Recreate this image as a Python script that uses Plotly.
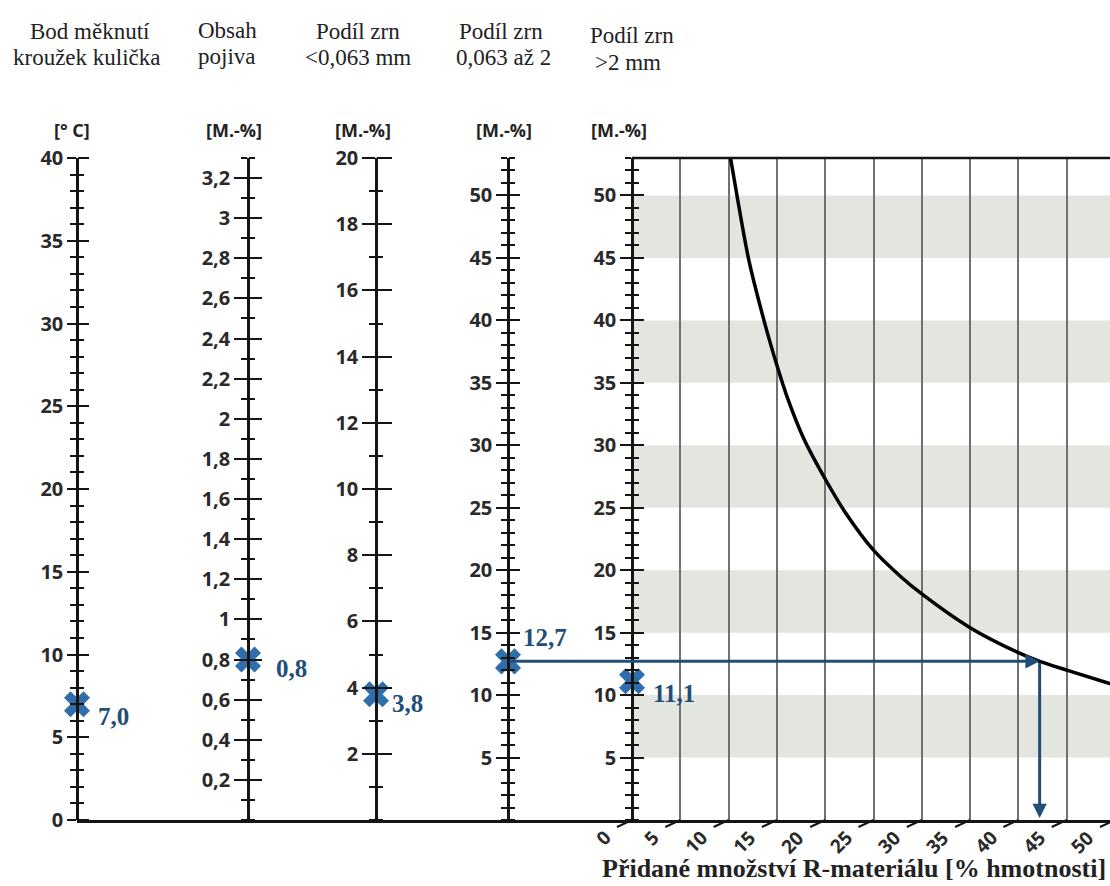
import numpy as np
import plotly.graph_objects as go

# ---------------- values ----------------
scale_titles = [
    ["Bod měknutí", "kroužek kulička"],
    ["Obsah", "pojiva"],
    ["Podíl zrn", "<0,063 mm"],
    ["Podíl zrn", "0,063 až 2"],
    ["Podíl zrn", ">2 mm"],
]
scale_units = ["[° C]", "[M.-%]", "[M.-%]", "[M.-%]", "[M.-%]"]

ticks_bod = [0, 5, 10, 15, 20, 25, 30, 35, 40]
ticks_pojivo = [0.2, 0.4, 0.6, 0.8, 1.0, 1.2, 1.4, 1.6, 1.8, 2.0,
                2.2, 2.4, 2.6, 2.8, 3.0, 3.2]
ticks_jemne = [2, 4, 6, 8, 10, 12, 14, 16, 18, 20]
ticks_stredni = [5, 10, 15, 20, 25, 30, 35, 40, 45, 50]
ticks_hrube = [5, 10, 15, 20, 25, 30, 35, 40, 45, 50]

scale_ranges = [[0, 40], [0, 3.3], [0, 20], [0, 53], [0, 53]]
scale_minor = [1, 0.1, 1, 1, 1]

# measured values marked on the five scales
measured = [7.0, 0.8, 3.8, 12.7, 11.1]

# added R-material [% by mass] vs. share of grains > 2 mm
curve_x = [10.2, 11.0, 12.1, 13.8, 15.0, 16.0, 17.8, 20.0, 22.1, 25.0,
           27.8, 30.0, 35.0, 40.0, 42.2, 45.0, 50.0]
curve_y = [53.0, 49.4, 44.8, 39.6, 36.4, 34.0, 30.5, 27.3, 24.6, 21.6,
           19.5, 18.1, 15.4, 13.4, 12.7, 12.0, 10.8]

x_ticks = [0, 5, 10, 15, 20, 25, 30, 35, 40, 45, 50]
bands = [(5, 10), (15, 20), (25, 30), (35, 40), (45, 50)]

x_title = "Přidané množství R-materiálu [% hmotnosti]"

# ---------------- layout geometry ----------------
W, H = 1110, 886
L, R, T, B = 77, 1110, 158, 820
X0_PX, PX_PER_UNIT = 632, 9.66
xmin = (L - X0_PX) / PX_PER_UNIT
xmax = (R - X0_PX) / PX_PER_UNIT
axis_px = [77, 248, 376, 508, 632]
pos_paper = [(p - L) / (R - L) for p in axis_px]
pos_data = [xmin + f * (xmax - xmin) for f in pos_paper]

major_left = [9, 13, 13, 11, 11]
major_right = [11, 13, 15, 11, 11]
minor_len = 6

INK = "#151515"
LABEL_INK = "#2a2a2a"
GRID = "#717171"
BAND = "#e3e5df"
MARK = "#2f6eab"
ARROW = "#1f4e79"
SANS = "Open Sans"
SERIF = "Liberation Serif"


def px_x(px):
    return (px - L) / (R - L)


def px_y(py):
    return (B - py) / (B - T)


def x_to_paper(v):
    return (v - xmin) / (xmax - xmin)


def fmt(v):
    return f"{v:g}".replace(".", ",")


def fmt1(v):
    return f"{v:.1f}".replace(".", ",")


def yref(n):
    return "y" if n == 1 else f"y{n}"


def ykey(n):
    return "yaxis" if n == 1 else f"yaxis{n}"


fig = go.Figure()
scale_ticks = [ticks_bod, ticks_pojivo, ticks_jemne, ticks_stredni, ticks_hrube]
main_ids = [2 * i + 1 for i in range(5)]
twin_ids = [2 * i + 2 for i in range(5)]

axes_layout = {}
for i in range(5):
    tv = scale_ticks[i]
    common = dict(
        range=scale_ranges[i], anchor="free", position=pos_paper[i],
        showgrid=False, zeroline=False, fixedrange=True,
        tickmode="array", tickvals=tv,
        tickwidth=2, tickcolor=INK,
        minor=dict(tickmode="linear", tick0=0, dtick=scale_minor[i],
                   ticks="outside", ticklen=minor_len, tickwidth=2,
                   tickcolor=INK),
    )
    main = dict(common, side="left", showline=True, linecolor=INK,
                linewidth=2.5, ticks="outside", ticklen=major_left[i],
                ticktext=[fmt(v) for v in tv],
                tickfont=dict(family=SANS, size=20, color=LABEL_INK,
                              weight=700))
    if main_ids[i] != 1:
        main["overlaying"] = "y"
    twin = dict(common, side="right", overlaying="y", showline=False,
                ticks="outside", ticklen=major_right[i],
                showticklabels=False)
    axes_layout[ykey(main_ids[i])] = main
    axes_layout[ykey(twin_ids[i])] = twin
    fig.add_trace(go.Scatter(x=[None], y=[None], yaxis=yref(twin_ids[i]),
                             showlegend=False, hoverinfo="skip"))

# curve of the right-hand panel
curve_ref = yref(main_ids[4])
fig.add_trace(go.Scatter(
    x=curve_x, y=curve_y, yaxis=curve_ref, mode="lines",
    line=dict(color="#000000", width=3.5, shape="spline", smoothing=0.8),
    showlegend=False, hoverinfo="skip"))

# measured points on each scale
for i in range(5):
    fig.add_trace(go.Scatter(
        x=[pos_data[i]], y=[measured[i]], yaxis=yref(main_ids[i]),
        mode="markers", cliponaxis=False, showlegend=False,
        marker=dict(symbol="x", size=23, color=MARK, line=dict(width=0))))

annotations = []

# headers above the scales
header_pos = [
    [(90, 32, "center"), (87, 57, "center")],
    [(196, 30, "left"), (196, 56, "left")],
    [(358, 31, "center"), (358, 58, "center")],
    [(501, 31, "center"), (503, 58, "center")],
    [(588, 35, "left"), (593, 63, "left")],
]
for title, pos in zip(scale_titles, header_pos):
    for line, (hx, hy, anchor) in zip(title, pos):
        annotations.append(dict(
            x=px_x(hx), y=px_y(hy), xref="paper", yref="paper", text=line,
            xanchor=anchor, yanchor="middle", showarrow=False,
            font=dict(family=SERIF, size=23, color="#222222")))

unit_x = [72, 234, 363, 504, 619]
for u, ux in zip(scale_units, unit_x):
    annotations.append(dict(
        x=px_x(ux), y=px_y(130), xref="paper", yref="paper", text=u,
        xanchor="center", yanchor="middle", showarrow=False,
        font=dict(family=SANS, size=18, color="#222222", weight=700)))

# value labels next to the marks
label_shift = [(19, -12), (26, -9), (14, -9), (13, 24), (19, -12)]
for i in range(5):
    dx, dy = label_shift[i]
    annotations.append(dict(
        x=pos_data[i], y=measured[i], xref="x", yref=yref(main_ids[i]),
        text=fmt1(measured[i]),
        xanchor="left", yanchor="middle", xshift=dx, yshift=dy,
        showarrow=False,
        font=dict(family=SERIF, size=25, color=ARROW, weight=700)))

# reading path: scale value -> curve -> added amount
hit_x = float(np.interp(measured[3], curve_y[::-1], curve_x[::-1]))
annotations.append(dict(
    x=hit_x, y=measured[3], xref="x", yref=yref(main_ids[3]),
    ax=pos_data[3], ay=measured[3], axref="x", ayref=yref(main_ids[3]),
    text="", showarrow=True, arrowhead=2, arrowsize=0.95, arrowwidth=3,
    arrowcolor=ARROW, standoff=0, startstandoff=0))
annotations.append(dict(
    x=hit_x, y=0, xref="x", yref=curve_ref,
    ax=hit_x, ay=measured[3], axref="x", ayref=curve_ref,
    text="", showarrow=True, arrowhead=2, arrowsize=0.95, arrowwidth=3,
    arrowcolor=ARROW, standoff=2, startstandoff=0))

# slanted x tick labels (placed on the x scale, may run past the edge)
for v in x_ticks:
    annotations.append(dict(
        x=x_to_paper(v), y=0, xref="paper", yref="paper",
        text=str(v), textangle=-45, xanchor="right", yanchor="top",
        xshift=-13, yshift=-2, showarrow=False,
        font=dict(family=SANS, size=19, color=LABEL_INK, weight=700)))

annotations.append(dict(
    x=px_x(854), y=px_y(869), xref="paper", yref="paper", text=x_title,
    xanchor="center", yanchor="middle", showarrow=False,
    font=dict(family=SERIF, size=26, color="#222222", weight=700)))

shapes = []
for lo, hi in bands:
    shapes.append(dict(type="rect", xref="x", yref=curve_ref, x0=0, x1=xmax,
                       y0=lo, y1=hi, fillcolor=BAND, line=dict(width=0),
                       layer="below"))
shapes.append(dict(type="line", xref="x", yref="paper", x0=0, x1=xmax,
                   y0=1, y1=1, line=dict(color=INK, width=2.5),
                   layer="above"))
for v in x_ticks:
    shapes.append(dict(type="line", xref="x", yref="paper",
                       xsizemode="pixel", xanchor=v, x0=-15, x1=0,
                       ysizemode="pixel", yanchor=0, y0=-7, y1=0,
                       line=dict(color=INK, width=2), layer="above"))

fig.update_layout(
    width=W, height=H,
    margin=dict(l=L, r=W - R, t=T, b=H - B, pad=0),
    paper_bgcolor="white", plot_bgcolor="white",
    showlegend=False,
    xaxis=dict(range=[xmin, xmax], tickmode="array",
               tickvals=[v for v in x_ticks if v <= xmax],
               showticklabels=False, ticks="", showgrid=True,
               gridcolor=GRID, gridwidth=2, zeroline=False,
               showline=True, linecolor=INK, linewidth=3, fixedrange=True),
    annotations=annotations,
    shapes=shapes,
    **axes_layout,
)

fig.write_html("out.html")
